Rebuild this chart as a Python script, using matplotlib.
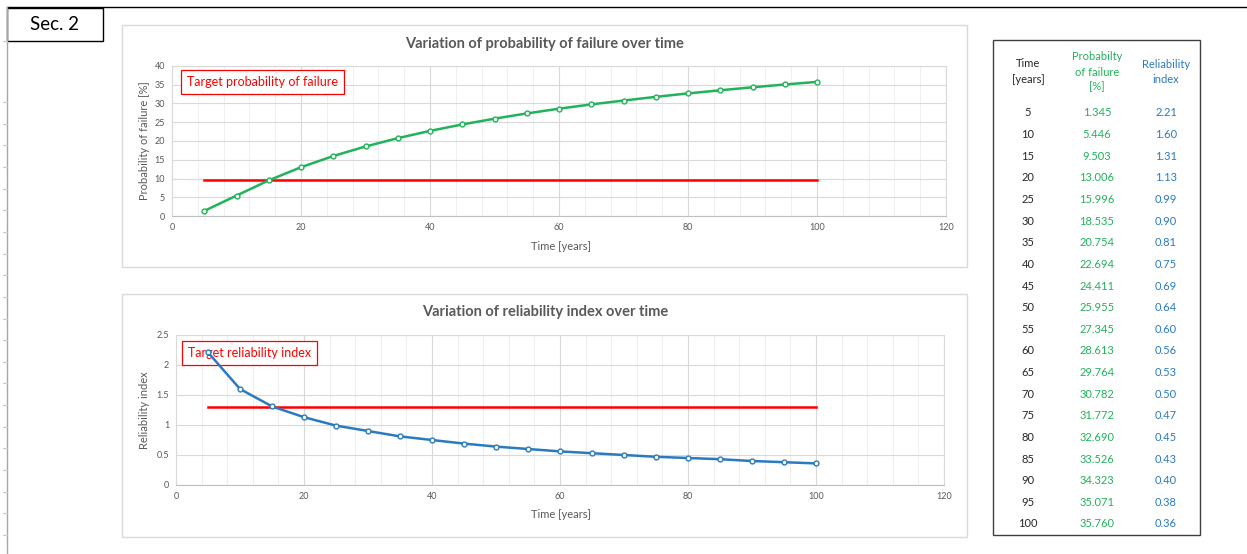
import matplotlib
matplotlib.use('Agg')
from matplotlib import pyplot as plt
from matplotlib.patches import Rectangle
from matplotlib.lines import Line2D

plt.rcParams['font.family'] = ['Lato', 'DejaVu Sans']

# data
time_years = [5, 10, 15, 20, 25, 30, 35, 40, 45, 50, 55, 60, 65, 70, 75, 80, 85, 90, 95, 100]
prob_failure = [1.345, 5.446, 9.503, 13.006, 15.996, 18.535, 20.754, 22.694, 24.411, 25.955,
                27.345, 28.613, 29.764, 30.782, 31.772, 32.690, 33.526, 34.323, 35.071, 35.760]
reliability_index = [2.21, 1.60, 1.31, 1.13, 0.99, 0.90, 0.81, 0.75, 0.69, 0.64,
                     0.60, 0.56, 0.53, 0.50, 0.47, 0.45, 0.43, 0.40, 0.38, 0.36]
target_pf = 9.68
target_beta = 1.3

W, H = 1247, 554
green = '#21B25A'
blue = '#2A7AC0'
red = '#FF0000'
txt_gray = '#595959'
grid_major = '#D9D9D9'
grid_minor = '#EFEFEF'


def fx(x):
    return x / W


def fy(y):
    return 1 - y / H


def px_axes(fig, left, top, right, bottom):
    return fig.add_axes([fx(left), fy(bottom), fx(right - left), (bottom - top) / H])


def style_axes(ax, ymax, ystep):
    ax.set_xlim(0, 120)
    ax.set_ylim(0, ymax)
    ax.xaxis.set_major_locator(plt.MultipleLocator(20))
    ax.xaxis.set_minor_locator(plt.MultipleLocator(4))
    ax.yaxis.set_major_locator(plt.MultipleLocator(ystep))
    ax.grid(which='major', color=grid_major, lw=0.8)
    ax.grid(which='minor', axis='x', color=grid_minor, lw=0.7)
    ax.set_axisbelow(True)
    ax.tick_params(which='both', length=0, labelsize=6.5, colors=txt_gray, pad=5)
    for s in ax.spines.values():
        s.set_color(grid_major)
        s.set_linewidth(0.8)
    ax.spines['bottom'].set_color('#BFBFBF')


def target_box(ax, x, y, label):
    # label sits under the curves, like the Excel text box
    x0, y0 = ax.transAxes.inverted().transform((x, y))
    ax.text(x0, y0, label, transform=ax.transAxes, ha='left', va='center',
            fontsize=9, color=red, zorder=1,
            bbox=dict(boxstyle='square,pad=0.45', fc='white', ec=red, lw=0.9))


fig = plt.figure(figsize=(W / 100, H / 100), dpi=100)

# sheet decorations
fig.add_artist(Line2D([fx(7), fx(W)], [fy(7), fy(7)], color='black', lw=1))
fig.add_artist(Line2D([fx(7), fx(7)], [fy(7), fy(H)], color='#A6A6A6', lw=1))
row_ticks = [41] + [102 + k * 21.65 for k in range(21)]
for yy in row_ticks:
    fig.add_artist(Line2D([fx(3), fx(7)], [fy(yy), fy(yy)], color='#C8C8C8', lw=0.8))
fig.add_artist(Rectangle((fx(7), fy(41)), fx(96), 33 / H, fill=False, ec='black', lw=1))
fig.text(fx(55), fy(25), 'Sec. 2', ha='center', va='center', fontsize=13.5, color='black')

# chart frames
fig.add_artist(Rectangle((fx(122), fy(267)), fx(845), 242 / H, fill=False, ec=grid_major, lw=1))
fig.add_artist(Rectangle((fx(122), fy(537)), fx(845), 243 / H, fill=False, ec=grid_major, lw=1))

# top chart
ax1 = px_axes(fig, 172, 66, 946, 216)
style_axes(ax1, 40, 5)
ax1.plot([time_years[0], time_years[-1]], [target_pf, target_pf], color=red, lw=1.8, zorder=2)
ax1.plot(time_years, prob_failure, color=green, lw=1.8, marker='o', ms=3.5,
         mfc='white', mec=green, mew=1, zorder=3)
fig.text(fx(545), fy(44), 'Variation of probability of failure over time', ha='center',
         va='center', fontsize=10.5, fontweight='bold', color=txt_gray)
fig.text(fx(561), fy(246), 'Time [years]', ha='center', va='center', fontsize=8, color=txt_gray)
fig.text(fx(144), fy(141), 'Probability of failure [%]', ha='center', va='center',
         fontsize=8, color=txt_gray, rotation=90)
target_box(ax1, 187, H - 82, 'Target probability of failure')

# bottom chart
ax2 = px_axes(fig, 176, 335, 944, 485)
style_axes(ax2, 2.5, 0.5)
ax2.yaxis.set_major_formatter(plt.FuncFormatter(lambda v, p: f'{v:g}'))
ax2.plot([time_years[0], time_years[-1]], [target_beta, target_beta], color=red, lw=1.8, zorder=2)
ax2.plot(time_years, reliability_index, color=blue, lw=1.8, marker='o', ms=3.5,
         mfc='white', mec=blue, mew=1, zorder=3)
fig.text(fx(545), fy(312), 'Variation of reliability index over time', ha='center',
         va='center', fontsize=10.5, fontweight='bold', color=txt_gray)
fig.text(fx(561), fy(515), 'Time [years]', ha='center', va='center', fontsize=8, color=txt_gray)
fig.text(fx(144), fy(410), 'Reliability index', ha='center', va='center',
         fontsize=8, color=txt_gray, rotation=90)
target_box(ax2, 188, H - 353, 'Target reliability index')

# table
fig.add_artist(Rectangle((fx(993), fy(535)), fx(207), 495 / H, fill=False, ec='#404040', lw=1))
fig.text(fx(1028), fy(71.5), 'Time\n[years]', ha='center', va='center', fontsize=8,
         color='#262626', linespacing=1.45)
fig.text(fx(1097), fy(72), 'Probabilty\nof failure\n[%]', ha='center', va='center',
         fontsize=8, color=green, linespacing=1.45)
fig.text(fx(1166), fy(72), 'Reliability\nindex', ha='center', va='center', fontsize=8,
         color=blue, linespacing=1.45)
for i, t in enumerate(time_years):
    yy = 113 + i * 21.63
    fig.text(fx(1028), fy(yy), f'{t}', ha='center', va='center', fontsize=8, color='#262626')
    fig.text(fx(1097), fy(yy), f'{prob_failure[i]:.3f}', ha='center', va='center',
             fontsize=8, color=green)
    fig.text(fx(1166), fy(yy), f'{reliability_index[i]:.2f}', ha='center', va='center',
             fontsize=8, color=blue)

fig.savefig('out.png', dpi=100, facecolor='white')
